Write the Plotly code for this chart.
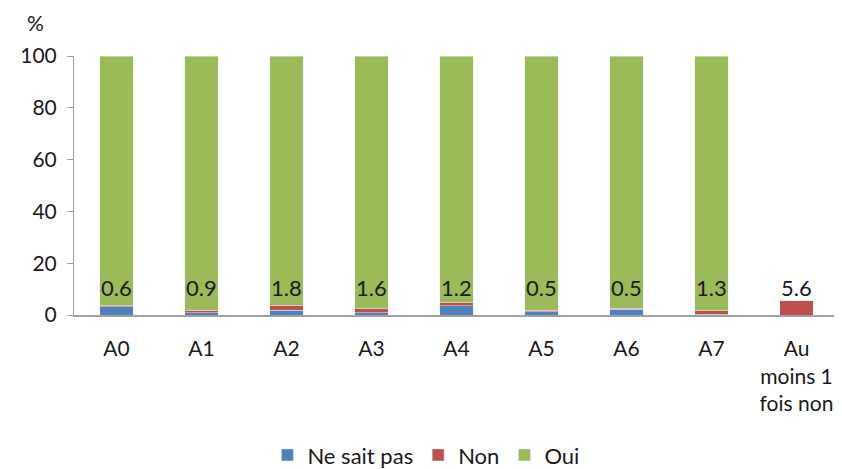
import plotly.graph_objects as go

categories = ["A0", "A1", "A2", "A3", "A4", "A5", "A6", "A7", "Au<br>moins 1<br>fois non"]
ne_sait_pas = [3.2, 0.9, 1.9, 0.9, 3.6, 1.3, 2.2, 0.3, 0]
non = [0.6, 0.9, 1.8, 1.6, 1.2, 0.5, 0.5, 1.3, 5.6]
oui = [100 - a - b for a, b in zip(ne_sait_pas, non)]
oui[-1] = 0
non_labels = ["0.6", "0.9", "1.8", "1.6", "1.2", "0.5", "0.5", "1.3", "5.6"]
y_ticks = [0, 20, 40, 60, 80, 100]

FONT = "Lato, Calibri, Open Sans, sans-serif"
TXT = "#1a1a1a"

fig = go.Figure()
fig.add_trace(go.Bar(name="Ne sait pas", x=categories, y=ne_sait_pas, marker_color="#4F81BD"))
fig.add_trace(go.Bar(name="Non", x=categories, y=non, marker_color="#C0504D"))
fig.add_trace(go.Bar(name="Oui", x=categories, y=oui, marker_color="#9BBB59"))

for c, lab in zip(categories, non_labels):
    fig.add_annotation(x=c, y=10.5, text=lab, showarrow=False, yanchor="middle",
                       font=dict(size=22, color=TXT, family=FONT))

fig.add_annotation(xref="paper", yref="paper", x=-0.037, y=1.131, text="%", showarrow=False,
                   xanchor="right", yanchor="middle", font=dict(size=21, color=TXT, family=FONT))

fig.update_layout(
    barmode="stack",
    bargap=0.61,
    width=834, height=461,
    margin=dict(l=66, r=3, t=48, b=154, autoexpand=False),
    plot_bgcolor="white", paper_bgcolor="white",
    font=dict(family=FONT, size=21, color=TXT),
    showlegend=True,
    legend=dict(orientation="h", x=0.46, xanchor="center", y=-0.46, yanchor="top",
                font=dict(size=22), traceorder="normal"),
    xaxis=dict(showline=True, linecolor="#a0a0a0", linewidth=2, ticks="", tickfont=dict(size=21),
               ticklabelstandoff=14),
    yaxis=dict(range=[0, 100], tickvals=y_ticks, showgrid=False, showline=True, linecolor="#a0a0a0",
               linewidth=1, ticks="outside", ticklen=6, tickcolor="#a0a0a0", tickfont=dict(size=21),
               zeroline=False, ticklabelstandoff=6),
)
fig.write_html("out.html")
